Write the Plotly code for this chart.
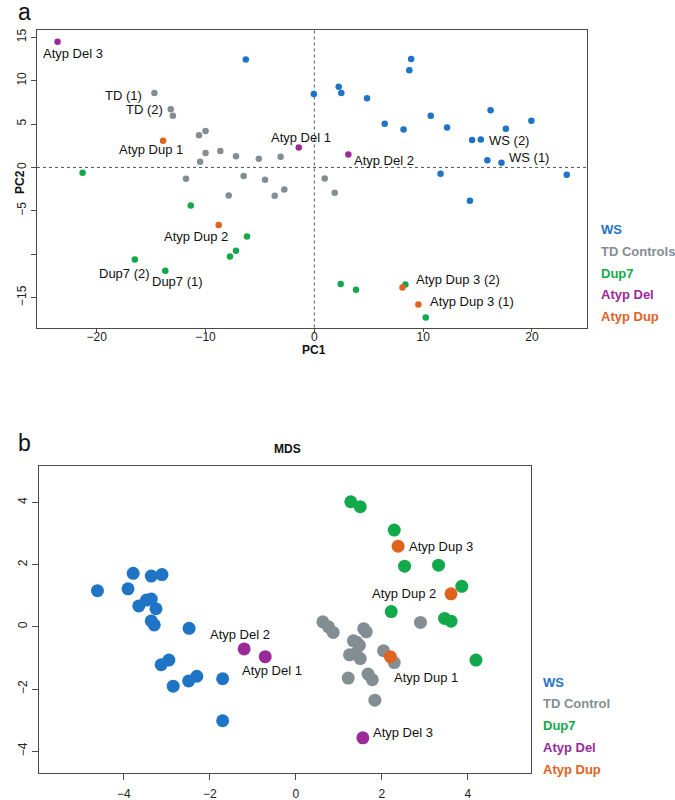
import plotly.graph_objects as go

# ---------------- Panel a: PCA ----------------
groups = ["WS", "TD Controls", "Dup7", "Atyp Del", "Atyp Dup"]
groups_b = ["WS", "TD Control", "Dup7", "Atyp Del", "Atyp Dup"]
colors = ["#1f74c6", "#838e93", "#12a94c", "#9a2a97", "#e1611f"]

pca_ws_x = [-6.3, -0.05, 2.24, 2.48, 4.84, 8.9, 8.73, 6.47, 8.2, 10.7, 12.2, 16.2, 17.6, 19.95, 14.5, 15.3, 15.9, 17.2, 11.6, 23.2, 14.3]
pca_ws_y = [12.45, 8.45, 9.3, 8.57, 7.96, 12.5, 11.2, 5.03, 4.38, 5.95, 4.6, 6.6, 4.45, 5.38, 3.15, 3.23, 0.84, 0.53, -0.74, -0.85, -3.85]
pca_td_x = [-14.7, -13.2, -13.0, -10.6, -10.0, -10.0, -10.5, -8.64, -7.2, -5.1, -3.1, -11.8, -6.5, -4.53, -7.87, -3.64, -2.76, 0.95, 1.87]
pca_td_y = [8.57, 6.7, 5.95, 3.7, 4.2, 1.65, 0.65, 1.88, 1.3, 1.0, 1.22, -1.31, -1.0, -1.43, -3.23, -3.27, -2.54, -1.27, -2.93]
pca_dup7_x = [-21.3, -11.36, -6.19, -7.2, -7.75, -16.5, -13.7, 2.42, 3.83, 8.37, 10.24]
pca_dup7_y = [-0.62, -4.38, -7.96, -9.6, -10.27, -10.6, -11.9, -13.45, -14.1, -13.5, -17.3]
pca_del_x = [-23.6, -1.43, 3.13]
pca_del_y = [14.5, 2.3, 1.5]
pca_dupa_x = [-13.9, -8.79, 8.1, 9.56]
pca_dupa_y = [3.07, -6.65, -13.85, -15.8]

pca_xticks = [-20, -10, 0, 10, 20]
pca_yticks = [-15, -10, -5, 0, 5, 10, 15]
pca_yticktext = ["\u221215", "", "\u22125", "0", "5", "10", "15"]

# ---------------- Panel b: MDS ----------------
mds_ws_x = [-4.61, -3.78, -3.36, -3.11, -3.9, -3.65, -3.47, -3.36, -3.25, -3.36, -3.29, -2.48, -3.13, -2.95, -2.85, -2.49, -2.3, -1.70, -1.70]
mds_ws_y = [1.16, 1.72, 1.63, 1.68, 1.22, 0.67, 0.86, 0.89, 0.58, 0.19, 0.06, -0.05, -1.22, -1.07, -1.91, -1.74, -1.59, -1.67, -3.02]
mds_td_x = [0.63, 0.76, 0.87, 1.58, 1.64, 1.34, 1.42, 1.48, 1.25, 1.5, 2.04, 2.29, 2.9, 1.22, 1.68, 1.78, 1.84, 1.4]
mds_td_y = [0.16, 0.0, -0.18, -0.06, -0.16, -0.45, -0.5, -0.6, -0.9, -1.02, -0.77, -1.15, 0.14, -1.65, -1.52, -1.7, -2.36, -0.85]
mds_dup7_x = [1.28, 1.5, 2.29, 2.53, 3.32, 3.86, 2.22, 3.46, 3.61, 4.19]
mds_dup7_y = [4.02, 3.86, 3.11, 1.95, 1.98, 1.3, 0.49, 0.27, 0.18, -1.07]
mds_del_x = [-0.71, -1.2, 1.56]
mds_del_y = [-0.96, -0.71, -3.57]
mds_dupa_x = [2.2, 3.61, 2.38]
mds_dupa_y = [-0.96, 1.06, 2.59]

mds_ticks = [-4, -2, 0, 2, 4]

# point labels: (group index, point index, text, xanchor, xshift, yshift)
pca_labels = [
    (3, 0, "Atyp Del 3", "center", 15, -12),
    (1, 0, "TD (1)", "right", -10, -2),
    (1, 1, "TD (2)", "right", -6, 0),
    (4, 0, "Atyp Dup 1", "center", -12, -9),
    (3, 1, "Atyp Del 1", "center", 2, 10),
    (3, 2, "Atyp Del 2", "left", 4, -6),
    (0, 15, "WS (2)", "left", 6, -1),
    (0, 17, "WS (1)", "left", 6, 5),
    (4, 1, "Atyp Dup 2", "center", -23, -11),
    (2, 5, "Dup7 (2)", "center", -10, -14),
    (2, 6, "Dup7 (1)", "center", 12, -11),
    (4, 2, "Atyp Dup 3 (2)", "left", 12, 8),
    (4, 3, "Atyp Dup 3 (1)", "left", 10, 3),
]
mds_labels = [
    (4, 2, "Atyp Dup 3", "left", 9, 0),
    (4, 1, "Atyp Dup 2", "right", -13, 0),
    (4, 0, "Atyp Dup 1", "left", 2, -21),
    (3, 1, "Atyp Del 2", "center", -4, 14),
    (3, 0, "Atyp Del 1", "center", 7, -14),
    (3, 2, "Atyp Del 3", "left", 8, 5),
]

pca_data = [(pca_ws_x, pca_ws_y), (pca_td_x, pca_td_y), (pca_dup7_x, pca_dup7_y),
            (pca_del_x, pca_del_y), (pca_dupa_x, pca_dupa_y)]
mds_data = [(mds_ws_x, mds_ws_y), (mds_td_x, mds_td_y), (mds_dup7_x, mds_dup7_y),
            (mds_del_x, mds_del_y), (mds_dupa_x, mds_dupa_y)]

W, H = 675, 800
FONT = "Liberation Sans, Arial, sans-serif"
LINE = "#4a4a4a"

def px(xp):
    return xp / W

def py(yp):
    return 1 - yp / H

fig = go.Figure()

for (xs, ys), c, g in zip(pca_data, colors, groups):
    fig.add_trace(go.Scatter(x=xs, y=ys, mode="markers", name=g, xaxis="x", yaxis="y",
                             marker=dict(color=c, size=6.5, line=dict(width=0)), showlegend=False))
for (xs, ys), c, g in zip(mds_data, colors, groups_b):
    fig.add_trace(go.Scatter(x=xs, y=ys, mode="markers", name=g, xaxis="x2", yaxis="y2",
                             marker=dict(color=c, size=13, line=dict(width=0)), showlegend=False))

annotations = []
for gi, pi, txt, xa, xs_, ys_ in pca_labels:
    annotations.append(dict(x=pca_data[gi][0][pi], y=pca_data[gi][1][pi], xref="x", yref="y",
                            text=txt, showarrow=False, xanchor=xa, yanchor="middle",
                            xshift=xs_, yshift=ys_, font=dict(family=FONT, size=13, color="#111")))
for gi, pi, txt, xa, xs_, ys_ in mds_labels:
    annotations.append(dict(x=mds_data[gi][0][pi], y=mds_data[gi][1][pi], xref="x2", yref="y2",
                            text=txt, showarrow=False, xanchor=xa, yanchor="middle",
                            xshift=xs_, yshift=ys_, font=dict(family=FONT, size=13, color="#111")))

# legends (coloured bold text)
for i, (g, c) in enumerate(zip(groups, colors)):
    annotations.append(dict(x=px(599), y=py(229.5 + i * 21.8), xref="paper", yref="paper",
                            text="<b>%s</b>" % g, showarrow=False, xanchor="left", yanchor="middle",
                            font=dict(family=FONT, size=13, color=c)))
for i, (g, c) in enumerate(zip(groups_b, colors)):
    annotations.append(dict(x=px(541), y=py(682 + i * 21.8), xref="paper", yref="paper",
                            text="<b>%s</b>" % g, showarrow=False, xanchor="left", yanchor="middle",
                            font=dict(family=FONT, size=13, color=c)))

# titles / panel letters
annotations += [
    dict(x=px(16), y=1, xref="paper", yref="paper", text="a", showarrow=False,
         yanchor="top", yshift=3, font=dict(family=FONT, size=23, color="#111")),
    dict(x=px(16), y=py(443), xref="paper", yref="paper", text="b", showarrow=False,
         yanchor="middle", font=dict(family=FONT, size=23, color="#111")),
    dict(x=px(314), y=py(350), xref="paper", yref="paper", text="<b>PC1</b>", showarrow=False,
         font=dict(family=FONT, size=12, color="#111")),
    dict(x=px(11), y=py(168), xref="paper", yref="paper", text="<b>PC2</b>", showarrow=False,
         textangle=-90, font=dict(family=FONT, size=12, color="#111")),
    dict(x=px(287), y=py(449), xref="paper", yref="paper", text="<b>MDS</b>", showarrow=False,
         font=dict(family=FONT, size=12, color="#111")),
]

axis_common = dict(showline=True, linecolor=LINE, linewidth=1, mirror=True, ticks="outside",
                   tickcolor=LINE, showgrid=False, zeroline=False,
                   tickfont=dict(family=FONT, size=12, color="#222"), automargin=False)

fig.update_layout(
    width=W, height=H, margin=dict(l=0, r=0, t=0, b=0),
    paper_bgcolor="white", plot_bgcolor="white", showlegend=False,
    xaxis=dict(domain=[px(37), px(587)], range=[-25.49, 25.06], tickvals=pca_xticks,
               tickmode="array", anchor="y", ticklen=3, ticklabelstandoff=-5, **axis_common),
    yaxis=dict(domain=[py(327.5), py(30)], range=[-18.45, 15.84], tickvals=pca_yticks,
               ticktext=pca_yticktext, tickmode="array", tickangle=-90, anchor="x", ticklen=5,
               **axis_common),
    xaxis2=dict(domain=[px(39), px(531)], range=[-5.97, 5.47], tickvals=mds_ticks,
                tickmode="array", anchor="y2", ticklen=6, ticklabelstandoff=3, **axis_common),
    yaxis2=dict(domain=[py(773.3), py(466)], range=[-4.71, 5.17], tickvals=mds_ticks,
                tickmode="array", tickangle=-90, anchor="x2", ticklen=6, **axis_common),
    annotations=annotations,
    shapes=[
        dict(type="line", xref="x", yref="y domain", x0=0, x1=0, y0=0, y1=1,
             line=dict(color="#555", width=1, dash="dot"), layer="below"),
        dict(type="line", xref="x domain", yref="y", x0=0, x1=1, y0=0, y1=0,
             line=dict(color="#555", width=1, dash="dot"), layer="below"),
    ],
)

fig.write_html("out.html", config={"displayModeBar": False},
               post_script="document.body.style.margin='0';document.body.style.padding='0';")
